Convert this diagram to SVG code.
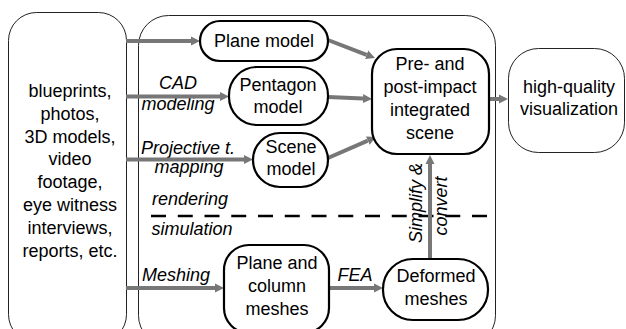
<svg xmlns="http://www.w3.org/2000/svg" width="626" height="329" viewBox="0 0 626 329">
<defs>
<style>
text{font-family:"Liberation Sans",Arial,sans-serif;font-size:18px;fill:#000;text-anchor:middle}
.it{font-style:italic}
.thin{fill:#fff;stroke:#222;stroke-width:1}
.node{fill:#fff;stroke:#000;stroke-width:2.2}
.arr{fill:none;stroke:#777;stroke-width:4;marker-end:url(#ah)}
.dash{fill:none;stroke:#000;stroke-width:2.5;stroke-dasharray:15 11.75}
</style>
<marker id="ah" viewBox="0 0 10 10" refX="0" refY="5" markerWidth="9" markerHeight="11" markerUnits="userSpaceOnUse" orient="auto">
<path d="M0,0 L10,5 L0,10 z" fill="#777"/>
</marker>
</defs>
<rect width="626" height="329" fill="#fff"/>
<g id="sources">
<rect class="thin" x="8.5" y="12.5" width="118" height="330" rx="28"/>
<text x="70" y="97">blueprints,</text>
<text x="70" y="120">photos,</text>
<text x="70" y="142.5">3D models,</text>
<text x="70" y="165">video</text>
<text x="70" y="188">footage,</text>
<text x="70" y="211">eye witness</text>
<text x="70" y="234">interviews,</text>
<text x="70" y="257">reports, etc.</text>
</g>
<g id="container">
<rect class="thin" x="138.5" y="15.5" width="357" height="330" rx="30"/>
</g>
<g id="divider">
<line class="dash" x1="151" y1="216" x2="490" y2="216"/>
</g>
<g id="labels">
<text class="it" x="178" y="89">CAD</text>
<text class="it" x="178" y="110">modeling</text>
<text class="it" x="188" y="154">Projective t.</text>
<text class="it" x="189" y="173">mapping</text>
<text class="it" x="190" y="205">rendering</text>
<text class="it" x="192" y="235">simulation</text>
<text class="it" x="176" y="281">Meshing</text>
<text class="it" x="355" y="281">FEA</text>
<text class="it" transform="translate(422,203) rotate(-90)">Simplify &amp;</text>
<text class="it" transform="translate(447,206) rotate(-90)">convert</text>
</g>
<g id="connectors">
<line class="arr" x1="126" y1="41" x2="191" y2="41"/>
<line class="arr" x1="126" y1="96.5" x2="220" y2="96.5"/>
<line class="arr" x1="126" y1="159.5" x2="244" y2="159.5"/>
<line class="arr" x1="126" y1="288" x2="215" y2="288"/>
<line class="arr" x1="329" y1="288" x2="374" y2="288"/>
<line class="arr" x1="328" y1="40" x2="366.6" y2="54.8"/>
<line class="arr" x1="328" y1="97" x2="363" y2="98.6"/>
<line class="arr" x1="328" y1="158" x2="367.8" y2="140.6"/>
<line class="arr" x1="489" y1="99" x2="499" y2="99"/>
<line class="arr" x1="430" y1="259" x2="430" y2="164"/>
</g>
<g id="plane-model">
<rect class="node" x="200" y="21" width="128" height="40" rx="20"/>
<text x="264" y="47">Plane model</text>
</g>
<g id="pentagon-model">
<rect class="node" x="229" y="67" width="99" height="58" rx="28"/>
<text x="278" y="91">Pentagon</text>
<text x="278" y="113">model</text>
</g>
<g id="scene-model">
<rect class="node" x="253" y="133" width="75" height="54" rx="27"/>
<text x="291" y="153">Scene</text>
<text x="291" y="175">model</text>
</g>
<g id="integrated-scene">
<rect class="node" x="372" y="49" width="117" height="105" rx="25"/>
<text x="430" y="70">Pre- and</text>
<text x="430" y="93">post-impact</text>
<text x="430" y="116">integrated</text>
<text x="430" y="139">scene</text>
</g>
<g id="visualization">
<rect class="thin" x="508.5" y="48.5" width="116" height="104" rx="30"/>
<text x="569" y="93">high-quality</text>
<text x="569" y="115">visualization</text>
</g>
<g id="plane-column-meshes">
<rect class="node" x="224" y="245" width="105" height="88" rx="25"/>
<text x="277" y="269">Plane and</text>
<text x="277" y="292">column</text>
<text x="277" y="315">meshes</text>
</g>
<g id="deformed-meshes">
<rect class="node" x="383" y="259" width="105" height="61" rx="30"/>
<text x="436" y="282">Deformed</text>
<text x="436" y="305">meshes</text>
</g>
</svg>
